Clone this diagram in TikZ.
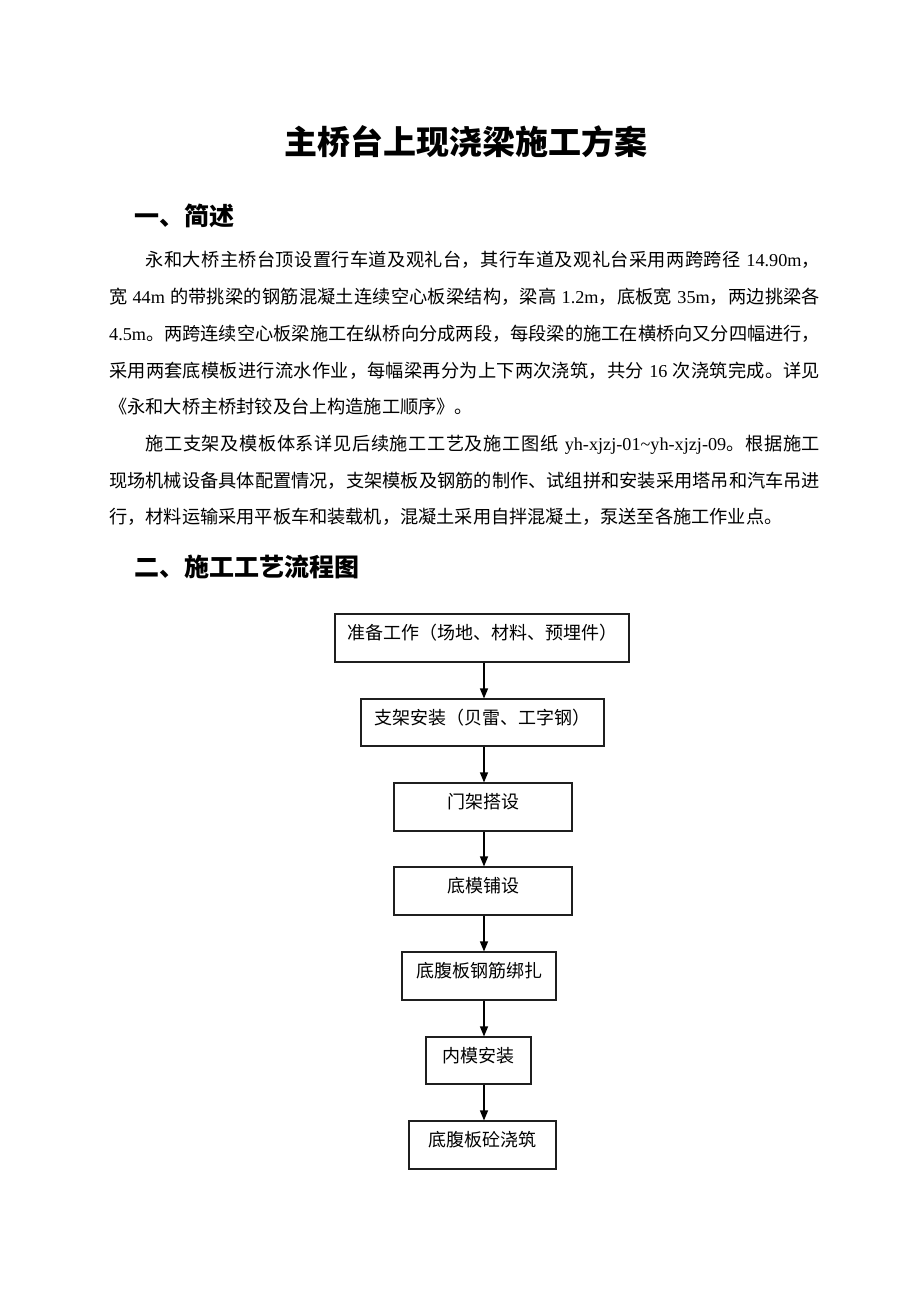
\documentclass[tikz,border=0pt]{standalone}
\usepackage{fontspec}
\setmainfont{Liberation Serif}
\newfontfamily\cjk{Noto Sans CJK SC}
\usetikzlibrary{arrows.meta}
\newcommand\en[1]{{\rmfamily #1}}
\def\sprend{\sprend}
\def\sprA#1{\ifx\sprend#1\unskip\else #1\hskip 0pt plus 1pt\expandafter\sprA\fi}
\newcommand\jline[2]{\hbox to #1{\sprA#2\sprend}}
\tikzset{
  body/.style={font=\cjk\fontsize{18.2pt}{18.2pt}\selectfont, inner sep=0pt, anchor=base west},
  head/.style={font=\cjk\bfseries\fontsize{25pt}{25pt}\selectfont, inner sep=0pt, anchor=base west},
  stepbox/.style={draw=black!88, line width=1.1pt, inner sep=0pt, minimum height=48pt,
    font=\cjk\fontsize{18pt}{18pt}\selectfont, text height=15pt, text depth=11.3pt},
  arr/.style={line width=1.2pt, -{Triangle[length=10pt,width=8pt]}}
}
\begin{document}
\begin{tikzpicture}[x=1pt,y=-1pt]
\fill[white] (0,0) rectangle (920,1302);
\useasboundingbox (0,0) rectangle (920,1302);

% title
\node[font=\cjk\bfseries\fontsize{33pt}{33pt}\selectfont, inner sep=0pt, anchor=base] (title) at (466,154.5) {主桥台上现浇梁施工方案};

% heading 1
\node[head] (h1) at (134,225.5) {一、简述};

% body paragraph 1
\node[body] (l1) at (145.4,266.9) {\jline{674.6pt}{永和大桥主桥台顶设置行车道及观礼台，其行车道及观礼台采用两跨跨径{\en{\ 14.90m}}，}};
\node[body] (l2) at (109,303.6) {\jline{711pt}{宽{\en{\ 44m\ }}的带挑梁的钢筋混凝土连续空心板梁结构，梁高{\en{\ 1.2m}}，底板宽{\en{\ 35m}}，两边挑梁各}};
\node[body] (l3) at (109,340.3) {\jline{711pt}{{\en{4.5m}}。两跨连续空心板梁施工在纵桥向分成两段，每段梁的施工在横桥向又分四幅进行，}};
\node[body] (l4) at (109,377.0) {\jline{711pt}{采用两套底模板进行流水作业，每幅梁再分为上下两次浇筑，共分{\en{\ 16\ }}次浇筑完成。详见}};
\node[body] (l5) at (109,413.7) {《永和大桥主桥封铰及台上构造施工顺序》。};

% body paragraph 2
\node[body] (l6) at (145.4,450.4) {\jline{674.6pt}{施工支架及模板体系详见后续施工工艺及施工图纸{\en{\ yh-xjzj-01\~{}yh-xjzj-09}}。根据施工}};
\node[body] (l7) at (109,487.1) {\jline{711pt}{现场机械设备具体配置情况，支架模板及钢筋的制作、试组拼和安装采用塔吊和汽车吊进}};
\node[body] (l8) at (109,523.8) {行，材料运输采用平板车和装载机，混凝土采用自拌混凝土，泵送至各施工作业点。};

% heading 2
\node[head] (h2) at (134,576.5) {二、施工工艺流程图};

% flowchart
\node[stepbox, minimum width=294pt] (b1) at (482,638) {准备工作（场地、材料、预埋件）};
\node[stepbox, minimum width=243pt, minimum height=47pt] (b2) at (482.5,722.5) {支架安装（贝雷、工字钢）};
\node[stepbox, minimum width=178pt] (b3) at (483,807) {门架搭设};
\node[stepbox, minimum width=178pt] (b4) at (483,891) {底模铺设};
\node[stepbox, minimum width=154pt] (b5) at (479,976) {底腹板钢筋绑扎};
\node[stepbox, minimum width=105pt, minimum height=47pt] (b6) at (478.5,1060.5) {内模安装};
\node[stepbox, minimum width=147pt] (b7) at (482.5,1145) {底腹板砼浇筑};

\coordinate (ax) at (484,0);
\draw[arr] (b1.south -| ax) -- (b2.north -| ax);
\draw[arr] (b2.south -| ax) -- (b3.north -| ax);
\draw[arr] (b3.south -| ax) -- (b4.north -| ax);
\draw[arr] (b4.south -| ax) -- (b5.north -| ax);
\draw[arr] (b5.south -| ax) -- (b6.north -| ax);
\draw[arr] (b6.south -| ax) -- (b7.north -| ax);
\end{tikzpicture}
\end{document}
